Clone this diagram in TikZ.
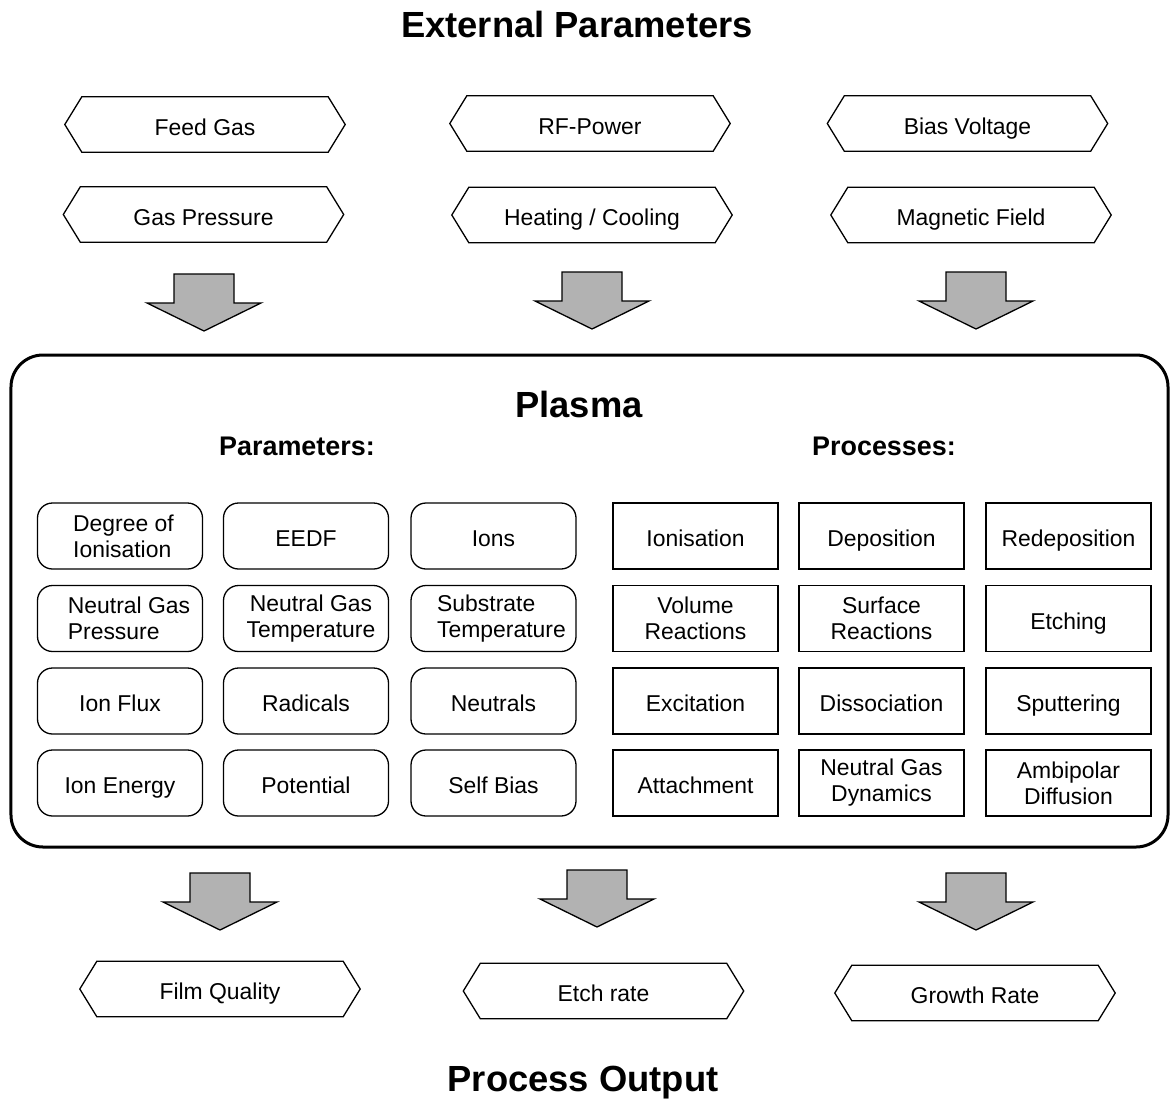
\documentclass[tikz,border=0pt]{standalone}
\usepackage{fontspec}
\setmainfont{Liberation Sans}
\newcommand\myhex[4]{%
  \node[hexlabel] (#1) at (#2,#3) {#4};
  \draw[hexline] (#1.north west) -- (#1.north east) -- ([xshift=17bp]#1.east)
    -- (#1.south east) -- (#1.south west) -- ([xshift=-17bp]#1.west) -- cycle;}
\newcommand\myarrow[3]{%
  \coordinate (#1) at (#2,#3);
  \draw[blockarrow] (#2-30,#3) -- (#2+30,#3) -- (#2+30,#3+29) -- (#2+57,#3+29)
    -- (#2,#3+57) -- (#2-57,#3+29) -- (#2-30,#3+29) -- cycle;}
\begin{document}
\begin{tikzpicture}[x=1bp,y=-1bp,
  txt/.style={font=\fontsize{23}{26}\selectfont, align=center},
  one/.style={text height=22bp, text depth=1bp},
  bigtitle/.style={font=\bfseries\fontsize{36.5}{40}\selectfont, anchor=base},
  subtitle/.style={font=\bfseries\fontsize{27}{30}\selectfont, anchor=base},
  pbox/.style={draw, rounded corners=15bp, minimum width=165bp, minimum height=66bp,
    line width=1.3bp, inner sep=0pt, txt},
  rbox/.style={draw, minimum width=165bp, minimum height=66bp,
    line width=1.3bp, inner sep=0pt, txt},
  pone/.style={pbox, one},
  rone/.style={rbox, one},
  hexlabel/.style={minimum width=246bp, minimum height=55bp, inner sep=0pt, txt, one},
  hexline/.style={draw, line width=1.3bp},
  blockarrow/.style={fill=gray!60, draw=black, line width=1.3bp, line join=miter},
  plasmabox/.style={draw, line width=3bp, rounded corners=32bp,
    minimum width=1157bp, minimum height=492bp}]
\useasboundingbox (0,0) rectangle (1171,1101);

% titles
\node[bigtitle] (ext) at (577,37) {External Parameters};
\node[bigtitle] (out) at (583,1091) {Process Output};

% external parameters
\myhex{feed}{205}{124.5}{Feed Gas}
\myhex{gasp}{203.5}{214.5}{Gas Pressure}
\myhex{rf}{590}{123.5}{RF-Power}
\myhex{heat}{592}{215}{Heating / Cooling}
\myhex{bias}{967.5}{123.5}{Bias Voltage}
\myhex{mag}{971}{215}{Magnetic Field}

% arrows in
\myarrow{a1}{204}{274}
\myarrow{a2}{592}{272}
\myarrow{a3}{976}{272}

% plasma box
\node[plasmabox] (plasma) at (589.5,601) {};
\node[bigtitle] (plasmat) at (579,417) {Plasma};
\node[subtitle] (params) at (297,455) {Parameters:};
\node[subtitle] (procs) at (884,455) {Processes:};

% parameter boxes
\node[pbox, label={[txt,align=left,xshift=3.5bp]center:{Degree of\\Ionisation}}] (doi) at (120,536) {};
\node[pone] (eedf) at (306,536) {EEDF};
\node[pone] (ions) at (493.5,536) {Ions};
\node[pbox, label={[txt,align=left,xshift=9bp]center:{Neutral Gas\\Pressure}}] (ngp) at (120,618.5) {};
\node[pbox, label={[txt,xshift=5bp]center:{Neutral Gas\\Temperature}}] (ngt) at (306,618.5) {};
\node[pbox, label={[txt,align=left,xshift=8bp]center:{Substrate\\Temperature}}] (subt) at (493.5,618.5) {};
\node[pone] (flux) at (120,701) {Ion Flux};
\node[pone] (rad) at (306,701) {Radicals};
\node[pone] (neut) at (493.5,701) {Neutrals};
\node[pone] (ien) at (120,783) {Ion Energy};
\node[pone] (pot) at (306,783) {Potential};
\node[pone] (sb) at (493.5,783) {Self Bias};

% process boxes
\node[rone] (ioni) at (695.5,536) {Ionisation};
\node[rone] (dep) at (881.5,536) {Deposition};
\node[rone] (redep) at (1068.5,536) {Redeposition};
\node[rbox] (vol) at (695.5,618.5) {Volume\\Reactions};
\node[rbox] (surf) at (881.5,618.5) {Surface\\Reactions};
\node[rone] (etch) at (1068.5,618.5) {Etching};
\node[rone] (exc) at (695.5,701) {Excitation};
\node[rone] (diss) at (881.5,701) {Dissociation};
\node[rone] (sput) at (1068.5,701) {Sputtering};
\node[rone] (att) at (695.5,783) {Attachment};
\node[rbox] (ngd) at (881.5,783) {Neutral Gas\\Dynamics};
\node[rbox] (amb) at (1068.5,783) {Ambipolar\\Diffusion};

% arrows out
\myarrow{b1}{220}{873}
\myarrow{b2}{597}{870}
\myarrow{b3}{976}{873}

% process output
\myhex{film}{220}{989}{Film Quality}
\myhex{etchr}{603.5}{991}{Etch rate}
\myhex{growth}{975}{993}{Growth Rate}
\end{tikzpicture}
\end{document}
